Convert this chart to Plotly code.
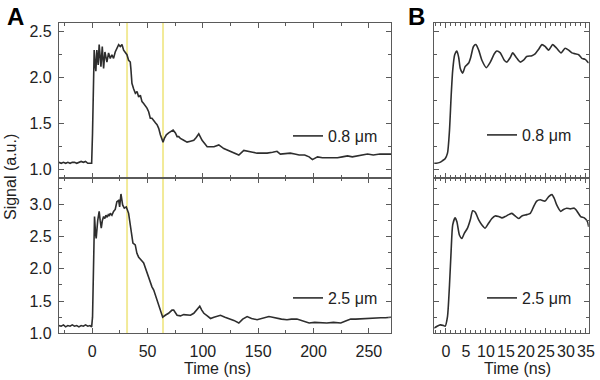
import plotly.graph_objects as go

# ---------------- data ----------------
a_top_t = [-30, -28, -26, -24, -22, -20, -18, -16, -14, -12, -10, -8, -6, -4, -2, -0.5,
           0.3, 1.0, 1.8, 2.6, 3.3, 4.2, 4.8, 5.4, 6.3, 7.1, 7.9, 9.1, 10.3, 11.5, 13.3,
           14.8, 16.3, 17.8, 19.3, 20.8, 22.3, 23.9, 25.4, 26.9, 28.4, 29.9, 31.4, 32.9,
           34.4, 35.0, 35.9, 37.4, 39.0, 40.5, 42.0, 43.5, 45.0, 46.5, 48.0, 49.5, 51.0,
           52.5, 54.0, 55.5, 57.1, 58.6, 60.1, 61.6, 63.1, 64.0, 65.2, 67.0, 69.1, 71.3,
           73.1, 75.2, 76.7, 78.2, 79.7, 82.7, 85.7, 88.8, 91.8, 94.0, 96.3, 99.3, 103.9,
           110, 114.4, 118.9, 125, 132.5, 137, 140, 145, 149, 153, 158, 163, 167, 170,
           175, 179, 183, 187, 192, 196, 199, 203.6, 208, 212.6, 217, 221.6, 226, 230.7,
           235, 239.7, 244, 248.8, 254, 260, 265, 270]
a_top_v = [1.08, 1.07, 1.08, 1.07, 1.08, 1.07, 1.08, 1.08, 1.07, 1.08, 1.09, 1.08, 1.09, 1.07, 1.07, 1.07,
           1.40, 2.05, 2.30, 2.15, 2.07, 2.30, 2.20, 2.14, 2.36, 2.22, 2.12, 2.34, 2.10, 2.28, 2.17,
           2.27, 2.21, 2.25, 2.21, 2.28, 2.32, 2.36, 2.34, 2.36, 2.30, 2.28, 2.25, 2.19,
           2.17, 2.09, 1.94, 1.88, 1.83, 1.85, 1.79, 1.81, 1.74, 1.72, 1.70, 1.67, 1.63,
           1.56, 1.56, 1.53, 1.51, 1.49, 1.45, 1.38, 1.32, 1.30, 1.34, 1.38, 1.40, 1.42,
           1.43, 1.40, 1.36, 1.36, 1.34, 1.32, 1.30, 1.31, 1.32, 1.35, 1.39, 1.32, 1.25,
           1.25, 1.27, 1.23, 1.20, 1.16, 1.21, 1.20, 1.19, 1.18, 1.18, 1.18, 1.19, 1.20, 1.17,
           1.18, 1.18, 1.17, 1.16, 1.16, 1.14, 1.11, 1.14, 1.13, 1.13, 1.13, 1.13, 1.14, 1.15,
           1.14, 1.15, 1.16, 1.17, 1.16, 1.17, 1.17, 1.17]

a_bot_t = [-30, -28, -26, -24, -22, -20, -18, -16, -14, -12, -10, -8, -6, -4, -2, -0.5,
           0.3, 1.0, 2.1, 3.0, 3.6, 5.0, 6.3, 7.2, 8.2, 9.2, 10.3, 11.4, 12.4, 13.5, 14.5,
           15.5, 16.3, 17.8, 19.3, 20.8, 22.3, 23.9, 24.8, 26.0, 27.5, 29.0, 30.8, 32.9,
           35.0, 36.8, 38.9, 40.4, 42.0, 43.5, 45.0, 46.5, 48.0, 49.5, 51.0, 52.5, 54.0,
           55.6, 57.0, 58.6, 60.0, 61.6, 63.7, 66.0, 69.0, 72.1, 73.6, 76.7, 79.7, 82.7,
           85.7, 88.8, 91.8, 93.3, 95.5, 97.2, 99, 100.9, 104, 106.9, 110, 113, 115.9, 120,
           123.4, 128, 132.5, 136, 140, 144, 149, 154, 159.7, 163, 167, 171, 176, 180, 185,
           190, 196, 201, 206.6, 212, 218, 224.6, 229, 233.6, 238, 245.7, 252, 260.9, 265, 270]
a_bot_v = [1.12, 1.11, 1.13, 1.10, 1.12, 1.11, 1.13, 1.11, 1.12, 1.10, 1.12, 1.11, 1.13, 1.11, 1.12, 1.10,
           1.25, 2.20, 2.81, 2.55, 2.47, 2.75, 2.89, 2.75, 2.63, 2.75, 2.81, 2.78, 2.83, 2.80, 2.84,
           2.82, 2.86, 2.83, 2.89, 2.92, 3.04, 3.06, 2.96, 3.16, 2.99, 2.94, 2.96, 2.86,
           2.65, 2.40, 2.37, 2.24, 2.18, 2.14, 2.12, 2.09, 2.02, 1.93, 1.86, 1.78, 1.72,
           1.67, 1.60, 1.54, 1.47, 1.39, 1.25, 1.28, 1.31, 1.36, 1.36, 1.28, 1.27, 1.29,
           1.28, 1.28, 1.31, 1.34, 1.38, 1.42, 1.36, 1.31, 1.27, 1.23, 1.25, 1.27, 1.28, 1.25,
           1.23, 1.20, 1.16, 1.22, 1.26, 1.23, 1.21, 1.23, 1.26, 1.25, 1.23, 1.22, 1.21, 1.22, 1.22,
           1.19, 1.16, 1.17, 1.16, 1.16, 1.17, 1.16, 1.19, 1.22, 1.22, 1.23, 1.23, 1.24, 1.24, 1.25]

b_top_t = [-3.0, -2.4, -1.5, -0.8, -0.2, 0.4, 0.9, 1.3, 1.7, 2.2, 2.75, 3.2, 3.6, 4.2, 4.8,
           5.7, 6.2, 6.9, 7.5, 8.2, 9.0, 10.1, 11.1, 12.1, 12.7, 13.6, 14.6, 15.2, 16.1,
           16.7, 17.6, 18.6, 19.4, 20.2, 21.5, 22.3, 23.2, 24.0, 24.8, 25.7, 26.7, 27.7,
           28.8, 29.8, 30.7, 31.5, 32.3, 33.2, 34.0, 34.8, 35.7]
b_top_v = [1.07, 1.07, 1.08, 1.10, 1.12, 1.18, 1.43, 1.79, 2.08, 2.25, 2.29, 2.22, 2.10, 2.05, 2.12,
           2.16, 2.22, 2.34, 2.36, 2.30, 2.19, 2.11, 2.17, 2.26, 2.29, 2.27, 2.19, 2.17, 2.22,
           2.27, 2.22, 2.17, 2.19, 2.23, 2.24, 2.26, 2.31, 2.36, 2.34, 2.30, 2.36, 2.32,
           2.27, 2.32, 2.30, 2.27, 2.26, 2.25, 2.21, 2.20, 2.16]

b_bot_t = [-3.0, -2.2, -1.4, -0.6, -0.2, 0.4, 0.9, 1.3, 1.7, 2.3, 2.75, 3.4, 4.0, 4.6, 5.4,
           6.1, 6.7, 7.3, 8.2, 9.0, 9.8, 10.7, 11.5, 12.3, 13.2, 14.0, 14.8, 15.7, 16.5,
           17.3, 18.2, 19.0, 20.2, 21.1, 21.9, 22.7, 23.6, 24.8, 25.7, 26.5, 27.1, 27.7,
           28.7, 29.4, 30.2, 31.1, 32.1, 32.7, 33.7, 34.6, 35.4, 35.7]
b_bot_v = [1.08, 1.11, 1.13, 1.12, 1.11, 1.26, 1.75, 2.27, 2.68, 2.79, 2.73, 2.52, 2.47, 2.55, 2.63,
           2.76, 2.90, 2.88, 2.76, 2.68, 2.63, 2.71, 2.78, 2.82, 2.81, 2.79, 2.81, 2.84, 2.86,
           2.82, 2.78, 2.82, 2.84, 2.86, 2.96, 3.05, 3.07, 3.05, 3.12, 3.15, 3.09, 2.99,
           2.89, 2.92, 2.94, 2.93, 2.94, 2.90, 2.81, 2.79, 2.73, 2.65]

series_names = ["0.8 \u03bcm", "2.5 \u03bcm"]
marker_times = [31.5, 64.0]          # yellow guide lines in panel A (ns)
a_xticks = [0, 50, 100, 150, 200, 250]
b_xticks = [0, 5, 10, 15, 20, 25, 30, 35]

# ---------------- figure ----------------
FONT = "Liberation Sans, Arial, sans-serif"
LINE = "#2e2e2e"
AXC = "#5a5a5a"

fig = go.Figure()
fig.add_trace(go.Scatter(x=a_top_t, y=a_top_v, mode="lines", name=series_names[0],
                         line=dict(color=LINE, width=1.6), xaxis="x", yaxis="y", legend="legend"))
fig.add_trace(go.Scatter(x=b_top_t, y=b_top_v, mode="lines", name=series_names[0],
                         line=dict(color=LINE, width=1.6, shape="spline", smoothing=0.6),
                         xaxis="x2", yaxis="y2", legend="legend2"))
fig.add_trace(go.Scatter(x=a_bot_t, y=a_bot_v, mode="lines", name=series_names[1],
                         line=dict(color=LINE, width=1.6), xaxis="x3", yaxis="y3", legend="legend3"))
fig.add_trace(go.Scatter(x=b_bot_t, y=b_bot_v, mode="lines", name=series_names[1],
                         line=dict(color=LINE, width=1.6, shape="spline", smoothing=0.6),
                         xaxis="x4", yaxis="y4", legend="legend4"))

W, H = 600, 380
ax_a = [59 / W, 391 / W]
ax_b = [434.3 / W, 588.7 / W]
row_top = [1 - 178 / H, 1 - 22.7 / H]
row_bot = [1 - 333.3 / H, 1 - 178 / H]

common = dict(showline=True, linecolor=AXC, linewidth=1.2, mirror="allticks",
              ticks="inside", tickcolor=AXC, ticklen=5, tickwidth=1,
              showgrid=False, zeroline=False, automargin=False, tickangle=0,
              tickfont=dict(family=FONT, size=16, color="#222"), ticklabelstandoff=3)

def xa(dom, rng, tickvals, show, minor_dt, anchor):
    d = dict(common)
    d.update(domain=dom, range=rng, tickvals=tickvals, showticklabels=show, anchor=anchor,
             minor=dict(dtick=minor_dt, tick0=0, ticks="inside", ticklen=3, tickcolor=AXC))
    return d

def ya(dom, rng, show, anchor):
    d = dict(common)
    d.update(domain=dom, range=rng, dtick=0.5, tick0=0, showticklabels=show, anchor=anchor,
             tickformat=".1f",
             minor=dict(dtick=0.25, tick0=0, ticks="inside", ticklen=3, tickcolor=AXC))
    return d

fig.update_layout(
    width=W, height=H, margin=dict(l=0, r=0, t=0, b=0, autoexpand=False),
    paper_bgcolor="white", plot_bgcolor="white", showlegend=True,
    xaxis=xa(ax_a, [-30, 270], a_xticks, False, 25, "y"),
    yaxis=ya(row_top, [0.91, 2.598], True, "x"),
    xaxis2=xa(ax_b, [-2.9, 35.7], b_xticks, False, 1.25, "y2"),
    yaxis2=ya(row_top, [0.91, 2.598], False, "x2"),
    xaxis3=xa(ax_a, [-30, 270], a_xticks, True, 25, "y3"),
    yaxis3=ya(row_bot, [1.0, 3.408], True, "x3"),
    xaxis4=xa(ax_b, [-2.9, 35.7], b_xticks, True, 1.25, "y4"),
    yaxis4=ya(row_bot, [1.0, 3.408], False, "x4"),
)

leg_common = dict(bgcolor="rgba(0,0,0,0)", borderwidth=0, xanchor="left", yanchor="middle",
                  font=dict(family=FONT, size=16, color="#222"), tracegroupgap=0, visible=True)
fig.update_layout(
    legend=dict(leg_common, x=288 / W, y=1 - 136 / H),
    legend2=dict(leg_common, x=482 / W, y=1 - 135 / H),
    legend3=dict(leg_common, x=288 / W, y=1 - 298 / H),
    legend4=dict(leg_common, x=482 / W, y=1 - 298 / H),
)

for t in marker_times:
    fig.add_shape(type="line", xref="x3", yref="paper", x0=t, x1=t,
                  y0=row_bot[0], y1=row_top[1], layer="below",
                  line=dict(color="#f2ea98", width=2))

annots = [
    dict(text="<b>A</b>", x=5 / W, y=1 - 1 / H, xanchor="left", yanchor="top",
         font=dict(family=FONT, size=24, color="black")),
    dict(text="<b>B</b>", x=406 / W, y=1 - 1 / H, xanchor="left", yanchor="top",
         font=dict(family=FONT, size=24, color="black")),
    dict(text="Signal (a.u.)", x=10 / W, y=1 - 177 / H, textangle=-90,
         xanchor="center", yanchor="middle", font=dict(family=FONT, size=16, color="#222")),
    dict(text="Time (ns)", x=217 / W, y=1 - 368 / H, xanchor="center", yanchor="middle",
         font=dict(family=FONT, size=16, color="#222")),
    dict(text="Time (ns)", x=517 / W, y=1 - 368 / H, xanchor="center", yanchor="middle",
         font=dict(family=FONT, size=16, color="#222")),
]
for a in annots:
    fig.add_annotation(xref="paper", yref="paper", showarrow=False, **a)

fig.write_html("out.html", config={"displayModeBar": False},
               post_script="document.body.style.margin='0px';document.body.style.padding='0px';")
